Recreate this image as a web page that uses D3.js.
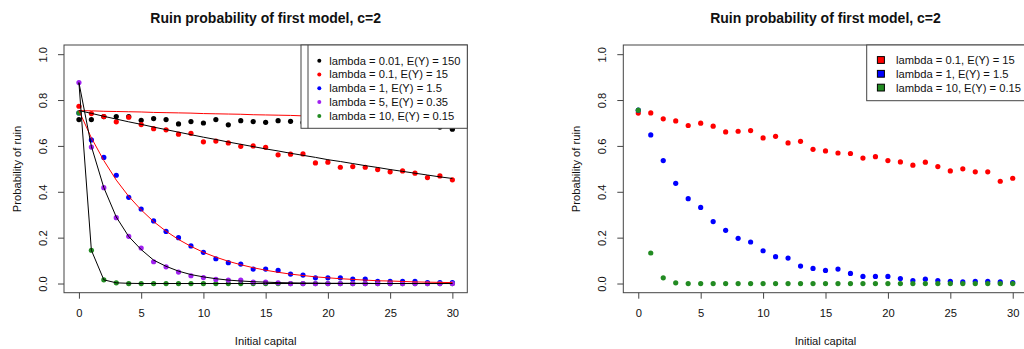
<!doctype html>
<html lang="en">
  <head>
    <meta charset="utf-8">
    <title>Ruin probability of first model</title>
    <script src="https://d3js.org/d3.v7.min.js"></script>
    <style>
    body {
      margin: 0;
      background: #fff;
    }
    svg {
      font-family: "Liberation Sans", Arial, sans-serif;
    }
    .axis path {
      display: none;
    }
    .axis line {
      stroke: #444;
    }
    .axis text {
      font-size: 11.2px;
      fill: #111;
    }
    </style>
  </head>

  <body>
    <svg width="1024" height="349"></svg>

    <script>
      // initial capital (x categories)
      var capital = [0, 1, 2, 3, 4, 5, 6, 7, 8, 9, 10, 11, 12, 13, 14, 15, 16, 17, 18, 19, 20,
                     21, 22, 23, 24, 25, 26, 27, 28, 29, 30];
      var xTicks = [0, 5, 10, 15, 20, 25, 30];
      var yTicks = [0, 0.2, 0.4, 0.6, 0.8, 1.0];

      // left panel: simulated points
      var simL001 = [0.715, 0.715, 0.728, 0.728, 0.728, 0.712, 0.719, 0.715, 0.696, 0.706, 0.700,
                     0.715, 0.692, 0.710, 0.706, 0.703, 0.710, 0.707, 0.702, 0.698, 0.705,
                     0.695, 0.700, 0.690, 0.697, 0.692, 0.694, 0.691, 0.693, 0.682, 0.673];
      var simL01 = [0.773, 0.741, 0.728, 0.705, 0.725, 0.693, 0.675, 0.670, 0.651, 0.655, 0.618,
                    0.621, 0.613, 0.598, 0.600, 0.594, 0.561, 0.564, 0.565, 0.526, 0.529,
                    0.507, 0.510, 0.507, 0.497, 0.487, 0.491, 0.481, 0.462, 0.469, 0.452];
      var simL1 = [0.744, 0.626, 0.550, 0.472, 0.376, 0.325, 0.273, 0.227, 0.200, 0.164, 0.136,
                   0.108, 0.091, 0.085, 0.063, 0.063, 0.057, 0.041, 0.037, 0.025, 0.025,
                   0.025, 0.019, 0.019, 0.010, 0.009, 0.009, 0.010, 0.004, 0.004, 0.004];
      var simL5 = [0.876, 0.595, 0.418, 0.287, 0.206, 0.155, 0.095, 0.073, 0.050, 0.034, 0.026,
                   0.018, 0.015, 0.015, 0.006, 0.006, 0.003, 0, 0, 0, 0,
                   0, 0, 0, 0, 0, 0, 0, 0, 0, 0];
      var simL10 = [0.744, 0.145, 0.016, 0.003, 0, 0, 0, 0, 0, 0, 0,
                    0, 0, 0, 0, 0, 0, 0, 0, 0, 0,
                    0, 0, 0, 0, 0, 0, 0, 0, 0, 0];

      // left panel: theoretical curves
      var thL001 = [0.754, 0.753, 0.751, 0.750, 0.749, 0.748, 0.746, 0.745, 0.744, 0.743, 0.741,
                    0.740, 0.739, 0.738, 0.736, 0.735, 0.734, 0.733, 0.731, 0.730, 0.729,
                    0.728, 0.727, 0.725, 0.724, 0.723, 0.722, 0.721, 0.720, 0.718, 0.717];
      var thL01 = [0.754, 0.742, 0.729, 0.717, 0.705, 0.694, 0.682, 0.671, 0.660, 0.649, 0.638,
                   0.628, 0.617, 0.607, 0.597, 0.587, 0.578, 0.568, 0.559, 0.550, 0.540,
                   0.532, 0.523, 0.514, 0.506, 0.497, 0.489, 0.481, 0.473, 0.465, 0.458];
      var thL1 = [0.754, 0.635, 0.536, 0.451, 0.380, 0.321, 0.270, 0.228, 0.192, 0.162, 0.136,
                  0.115, 0.097, 0.082, 0.069, 0.058, 0.049, 0.041, 0.035, 0.029, 0.025,
                  0.021, 0.018, 0.015, 0.012, 0.011, 0.009, 0.007, 0.006, 0.005, 0.004];
      var thL5 = [0.876, 0.598, 0.418, 0.290, 0.205, 0.148, 0.102, 0.075, 0.054, 0.039, 0.029,
                  0.021, 0.015, 0.011, 0.008, 0.006, 0.004, 0.003, 0.002, 0.002, 0.001,
                  0.001, 0.001, 0.001, 0, 0, 0, 0, 0, 0, 0];
      var thL10 = [0.876, 0.145, 0.016, 0.003, 0.001, 0, 0, 0, 0, 0, 0,
                   0, 0, 0, 0, 0, 0, 0, 0, 0, 0,
                   0, 0, 0, 0, 0, 0, 0, 0, 0, 0];

      // right panel: simulated points
      var simR01 = [0.743, 0.744, 0.718, 0.709, 0.689, 0.699, 0.686, 0.661, 0.664, 0.667, 0.635,
                    0.642, 0.613, 0.620, 0.585, 0.578, 0.569, 0.567, 0.547, 0.553, 0.536,
                    0.530, 0.516, 0.529, 0.510, 0.491, 0.500, 0.487, 0.487, 0.446, 0.459];
      var simR1 = [0.756, 0.648, 0.536, 0.437, 0.370, 0.332, 0.270, 0.232, 0.197, 0.181, 0.143,
                   0.117, 0.111, 0.076, 0.066, 0.057, 0.063, 0.044, 0.031, 0.031, 0.031,
                   0.022, 0.013, 0.019, 0.013, 0.010, 0.007, 0.010, 0.010, 0.007, 0.004];
      var simR10 = [0.756, 0.133, 0.025, 0.003, 0, 0, 0, 0, 0, 0, 0,
                    0, 0, 0, 0, 0, 0, 0, 0, 0, 0,
                    0, 0, 0, 0, 0, 0, 0, 0, 0, 0];

      var leftLabels = ['lambda = 0.01, E(Y) = 150', 'lambda = 0.1, E(Y) = 15', 'lambda = 1, E(Y) = 1.5',
                        'lambda = 5, E(Y) = 0.35', 'lambda = 10, E(Y) = 0.15'];
      var rightLabels = ['lambda = 0.1, E(Y) = 15', 'lambda = 1, E(Y) = 1.5', 'lambda = 10, E(Y) = 0.15'];

      var titleText = 'Ruin probability of first model, c=2';

      var svg = d3.select('svg');

      function panel(left, right, clipId) {
        var xScale = d3.scaleLinear().domain([-1.2, 31.2]).range([left, right]);
        var yScale = d3.scaleLinear().domain([-0.04, 1.04]).range([292.7, 45]);
        var cx = (left + right) / 2;

        svg.append('clipPath').attr('id', clipId)
          .append('rect')
            .attr('x', left).attr('y', 45)
            .attr('width', right - left).attr('height', 247.7);

        // axes
        svg.append('g')
          .attr('class', 'axis')
          .attr('transform', 'translate(0, 292.7)')
          .call(d3.axisBottom(xScale).tickValues(xTicks).tickSize(6).tickPadding(10));

        var yAxis = svg.append('g')
          .attr('class', 'axis')
          .attr('transform', 'translate(' + left + ', 0)')
          .call(d3.axisLeft(yScale).tickValues(yTicks).tickSize(6).tickFormat(d3.format('.1f')));

        yAxis.selectAll('.tick text')
          .attr('transform', 'rotate(-90)')
          .attr('x', 0)
          .attr('y', -17.3)
          .attr('dy', 0)
          .style('text-anchor', 'middle');

        // box
        svg.append('rect')
          .attr('x', left).attr('y', 45)
          .attr('width', right - left).attr('height', 247.7)
          .attr('fill', 'none')
          .attr('stroke', '#444');

        // titles
        svg.append('text')
          .attr('x', cx).attr('y', 23)
          .attr('text-anchor', 'middle')
          .style('font-size', '14px')
          .style('font-weight', 'bold')
          .attr('fill', '#111')
          .text(titleText);

        svg.append('text')
          .attr('x', cx).attr('y', 345)
          .attr('text-anchor', 'middle')
          .style('font-size', '11.2px')
          .attr('fill', '#111')
          .text('Initial capital');

        svg.append('text')
          .attr('transform', 'translate(' + (left - 43.5) + ', 169) rotate(-90)')
          .attr('text-anchor', 'middle')
          .style('font-size', '11.2px')
          .attr('fill', '#111')
          .text('Probability of ruin');

        return { x: xScale, y: yScale, clip: clipId };
      }

      function drawPoints(p, values, color) {
        svg.append('g')
          .attr('clip-path', 'url(#' + p.clip + ')')
          .selectAll('circle').data(values)
          .enter()
            .append('circle')
            .attr('cx', function(d, i){ return p.x(capital[i]); })
            .attr('cy', function(d){ return p.y(d); })
            .attr('r', 2.6)
            .attr('fill', color);
      }

      function drawLine(p, values, color) {
        var line = d3.line()
          .x(function(d, i){ return p.x(capital[i]); })
          .y(function(d){ return p.y(d); });

        svg.append('path')
          .datum(values)
          .attr('clip-path', 'url(#' + p.clip + ')')
          .attr('d', line)
          .attr('fill', 'none')
          .attr('stroke', color)
          .attr('stroke-width', 1);
      }

      // left panel
      var pl = panel(64, 467.3, 'clipL');
      drawPoints(pl, simL001, '#000000');
      drawPoints(pl, simL01, '#ff0000');
      drawPoints(pl, simL1, '#0000ff');
      drawPoints(pl, simL10, '#228b22');
      drawPoints(pl, simL5, '#a020f0');
      drawLine(pl, thL001, '#ff0000');
      drawLine(pl, thL01, '#000000');
      drawLine(pl, thL1, '#ff0000');
      drawLine(pl, thL5, '#000000');
      drawLine(pl, thL10, '#000000');

      var leftColors = ['#000000', '#ff0000', '#0000ff', '#a020f0', '#228b22'];
      var legL = svg.append('g');
      legL.append('rect')
        .attr('x', 301).attr('y', 45).attr('width', 166.3).attr('height', 83.3)
        .attr('fill', '#fff').attr('stroke', '#444');
      legL.append('line')
        .attr('x1', 308).attr('x2', 308).attr('y1', 45).attr('y2', 128.3)
        .attr('stroke', '#444');
      legL.selectAll('circle').data(leftLabels)
        .enter()
          .append('circle')
          .attr('cx', 319.3)
          .attr('cy', function(d, i){ return 60.7 + i * 13.8; })
          .attr('r', 2)
          .attr('fill', function(d, i){ return leftColors[i]; });
      legL.selectAll('text').data(leftLabels)
        .enter()
          .append('text')
          .attr('x', 329.3)
          .attr('y', function(d, i){ return 60.7 + i * 13.8; })
          .attr('dy', '0.35em')
          .style('font-size', '11.2px')
          .attr('fill', '#111')
          .text(function(d){ return d; });

      // right panel
      var pr = panel(623.3, 1027.7, 'clipR');
      drawPoints(pr, simR01, '#ff0000');
      drawPoints(pr, simR1, '#0000ff');
      drawPoints(pr, simR10, '#228b22');

      var rightColors = ['#ff0000', '#0000ff', '#228b22'];
      var legR = svg.append('g');
      legR.append('rect')
        .attr('x', 866.7).attr('y', 45).attr('width', 170).attr('height', 55.7)
        .attr('fill', '#fff').attr('stroke', '#444');
      legR.selectAll('rect.key').data(rightLabels)
        .enter()
          .append('rect')
          .attr('class', 'key')
          .attr('x', 877.4)
          .attr('y', function(d, i){ return 60 + i * 13.8 - 3.4; })
          .attr('width', 7)
          .attr('height', 6.8)
          .attr('fill', function(d, i){ return rightColors[i]; })
          .attr('stroke', '#000');
      legR.selectAll('text').data(rightLabels)
        .enter()
          .append('text')
          .attr('x', 896)
          .attr('y', function(d, i){ return 60 + i * 13.8; })
          .attr('dy', '0.35em')
          .style('font-size', '11.2px')
          .attr('fill', '#111')
          .text(function(d){ return d; });
    </script>
  </body>
</html>
